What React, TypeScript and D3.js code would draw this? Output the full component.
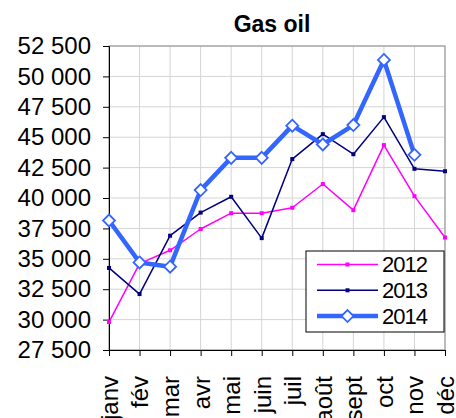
import { useEffect, useRef } from 'react';
import * as d3 from 'd3';

const months = ['janv', 'fév', 'mar', 'avr', 'mai', 'juin', 'juil', 'août', 'sept', 'oct', 'nov', 'déc'];
const values2012 = [29800, 34600, 35700, 37450, 38750, 38750, 39200, 41150, 39000, 44350, 40150, 36750];
const values2013 = [34250, 32100, 36900, 38800, 40100, 36700, 43200, 45250, 43600, 46650, 42400, 42200];
const values2014 = [38150, 34700, 34350, 40650, 43300, 43300, 45950, 44400, 46000, 51350, 43550, null];
const yTicks = [27500, 30000, 32500, 35000, 37500, 40000, 42500, 45000, 47500, 50000, 52500];

const W = 456;
const H = 418;
const margin = { top: 46, right: 11, bottom: 68, left: 109 };
const font = 'Liberation Sans, Arial, sans-serif';

const fmt = (v: number) => d3.format(',')(v).replace(',', ' ');

export default function App() {
  const svgRef = useRef<SVGSVGElement>(null);

  useEffect(() => {
    if (!svgRef.current) return;
    const svg = d3.select(svgRef.current);
    svg.selectAll('*').remove();

    const innerW = W - margin.left - margin.right;
    const innerH = H - margin.top - margin.bottom;

    const x = d3.scalePoint<string>().domain(months).range([0, innerW]);
    const y = d3.scaleLinear().domain([27500, 52500]).range([innerH, 0]);

    const g = svg.append('g').attr('transform', `translate(${margin.left},${margin.top})`);

    // gridlines
    g.append('g')
      .selectAll('line.h')
      .data(yTicks)
      .join('line')
      .attr('x1', 0)
      .attr('x2', innerW)
      .attr('y1', d => y(d))
      .attr('y2', d => y(d))
      .attr('stroke', '#d4d4d4')
      .attr('stroke-width', 1);
    g.append('g')
      .selectAll('line.v')
      .data(months)
      .join('line')
      .attr('x1', d => x(d)!)
      .attr('x2', d => x(d)!)
      .attr('y1', 0)
      .attr('y2', innerH)
      .attr('stroke', '#d4d4d4')
      .attr('stroke-width', 1);

    // plot border
    g.append('rect')
      .attr('x', 0)
      .attr('y', 0)
      .attr('width', innerW)
      .attr('height', innerH)
      .attr('fill', 'none')
      .attr('stroke', '#8c8c8c')
      .attr('stroke-width', 1);

    // axes
    const yAxis = g.append('g').call(d3.axisLeft(y).tickValues(yTicks).tickSize(6).tickPadding(12).tickFormat(d => fmt(d as number)));
    yAxis.select('.domain').attr('stroke', '#000');
    yAxis.selectAll('text')
      .attr('font-family', font)
      .attr('font-size', 24)
      .attr('fill', '#000');

    const xAxis = g.append('g')
      .attr('transform', `translate(0,${innerH})`)
      .call(d3.axisBottom(x).tickSize(6).tickSizeOuter(0));
    xAxis.select('.domain').attr('stroke', '#000');
    xAxis.selectAll('text')
      .attr('font-family', font)
      .attr('font-size', 24)
      .attr('fill', '#000')
      .attr('transform', 'rotate(-90)')
      .attr('text-anchor', 'end')
      .attr('x', -26)
      .attr('y', 0)
      .attr('dy', '0.35em');

    const line = d3.line<number | null>()
      .defined(d => d != null)
      .x((_, i) => x(months[i])!)
      .y(d => y(d as number));

    const series = [
      { name: '2012', values: values2012, color: '#ff00ff', width: 1.5, marker: 'square' },
      { name: '2013', values: values2013, color: '#000080', width: 1.5, marker: 'square' },
      { name: '2014', values: values2014, color: '#3366ff', width: 4.5, marker: 'diamond' },
    ];

    const diamond = (cx: number, cy: number, r: number) =>
      `M${cx},${cy - r}L${cx + r},${cy}L${cx},${cy + r}L${cx - r},${cy}Z`;

    series.forEach(s => {
      g.append('path')
        .datum(s.values)
        .attr('d', line)
        .attr('fill', 'none')
        .attr('stroke', s.color)
        .attr('stroke-width', s.width)
        .attr('stroke-linejoin', 'round');
      const pts = s.values.map((v, i) => ({ v, i })).filter(p => p.v != null);
      if (s.marker === 'square') {
        g.append('g')
          .selectAll('rect')
          .data(pts)
          .join('rect')
          .attr('x', p => x(months[p.i])! - 2)
          .attr('y', p => y(p.v as number) - 2)
          .attr('width', 4)
          .attr('height', 4)
          .attr('fill', s.color);
      } else {
        g.append('g')
          .selectAll('path')
          .data(pts)
          .join('path')
          .attr('d', p => diamond(x(months[p.i])!, y(p.v as number), 6))
          .attr('fill', '#fff')
          .attr('stroke', s.color)
          .attr('stroke-width', 1.8);
      }
    });

    // legend
    const lg = svg.append('g').attr('transform', 'translate(306,251)');
    lg.append('rect')
      .attr('width', 138)
      .attr('height', 81)
      .attr('fill', '#fff')
      .attr('stroke', '#000')
      .attr('stroke-width', 1);
    series.forEach((s, i) => {
      const ly = 13.5 + i * 25.8;
      lg.append('line')
        .attr('x1', 11)
        .attr('x2', 72)
        .attr('y1', ly)
        .attr('y2', ly)
        .attr('stroke', s.color)
        .attr('stroke-width', s.width);
      if (s.marker === 'square') {
        lg.append('rect')
          .attr('x', 39.5)
          .attr('y', ly - 2)
          .attr('width', 4)
          .attr('height', 4)
          .attr('fill', s.color);
      } else {
        lg.append('path')
          .attr('d', diamond(41.5, ly, 6))
          .attr('fill', '#fff')
          .attr('stroke', s.color)
          .attr('stroke-width', 1.8);
      }
      lg.append('text')
        .attr('x', 76)
        .attr('y', ly)
        .attr('dy', '0.35em')
        .attr('font-family', font)
        .attr('font-size', 22)
        .attr('letter-spacing', -1)
        .text(s.name);
    });

    // title
    svg.append('text')
      .attr('x', 272)
      .attr('y', 32)
      .attr('text-anchor', 'middle')
      .attr('font-family', font)
      .attr('font-size', 23)
      .attr('font-weight', 'bold')
      .text('Gas oil');
  }, []);

  return (
    <svg ref={svgRef} width={W} height={H} style={{ position: 'absolute', left: 0, top: 0, background: '#fff' }} />
  );
}
